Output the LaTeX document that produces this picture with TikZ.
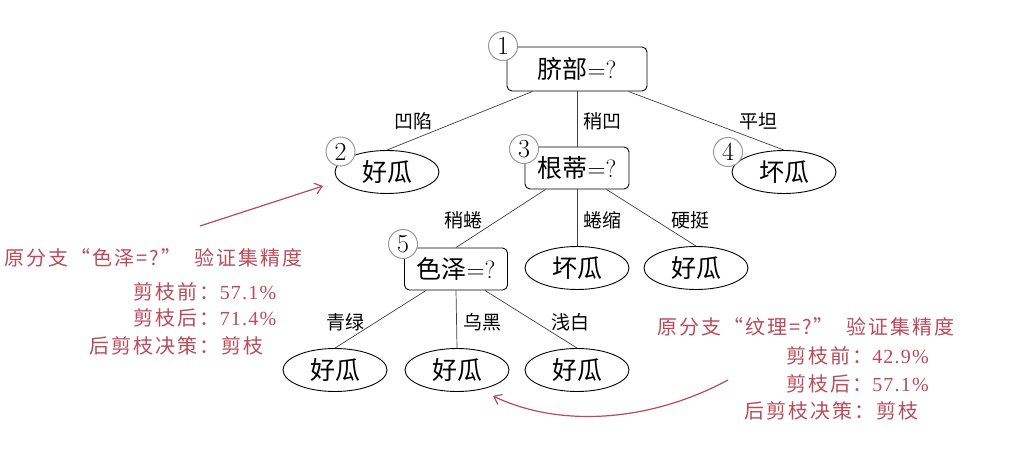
\documentclass[tikz,border=0pt]{standalone}
\usepackage{fontspec}
\newfontfamily\cjk{Noto Sans CJK SC}
\newfontfamily\cjkw[LetterSpace=10]{Noto Sans CJK SC}
\newfontfamily\numf[LetterSpace=6]{Liberation Serif}
\usetikzlibrary{shapes.geometric,arrows.meta}
\definecolor{anno}{RGB}{185,75,90}
\tikzset{
  decbox/.style={draw,line width=0.9pt,rounded corners=5pt,inner sep=0pt,font=\fontsize{25}{28}\selectfont},
  leaf/.style={draw,ellipse,line width=0.9pt,minimum width=104pt,minimum height=43pt,inner sep=0pt,font=\fontsize{25}{28}\selectfont\cjk},
  num/.style={draw=black!40,fill=white,circle,line width=1pt,minimum size=29pt,inner sep=0pt,font=\fontsize{26}{28}\selectfont},
  elabel/.style={inner sep=0pt,font=\fontsize{19}{22}\selectfont\cjk},
  edge/.style={line width=0.7pt,draw=black!75},
  annotxt/.style={inner sep=0pt,text=anno,font=\fontsize{20}{24}\selectfont\cjkw},
  annoarrow/.style={draw=anno,line width=1.2pt,-{Straight Barb[length=7pt,width=11pt]}}
}
\begin{document}
\begin{tikzpicture}[x=1pt,y=-1pt]
\useasboundingbox[fill=white] (0,0) rectangle (1011,454);
% decision nodes
\node[decbox,minimum width=140pt,minimum height=44pt] (root) at (577,69) {{\cjk 脐部}=?};
\node[decbox,minimum width=104pt,minimum height=42pt] (n3) at (577,168) {{\cjk 根蒂}=?};
\node[decbox,minimum width=103pt,minimum height=42pt] (n5) at (456,269) {{\cjk 色泽}=?};
% leaves
\node[leaf] (n2) at (387,172) {好瓜};
\node[leaf] (n4) at (784,172) {坏瓜};
\node[leaf] (l3b) at (577,268) {坏瓜};
\node[leaf] (l3c) at (696,268) {好瓜};
\node[leaf] (l5a) at (335,370) {好瓜};
\node[leaf] (l5b) at (457,370) {好瓜};
\node[leaf] (l5c) at (577,370) {好瓜};
% edges
\draw[edge] ([xshift=26pt]root.south west) -- (n2.north);
\draw[edge] (root.south) -- (n3.north);
\draw[edge] ([xshift=-19pt]root.south east) -- (n4.north);
\draw[edge] ([xshift=21pt]n3.south west) -- (n5.north);
\draw[edge] (n3.south) -- (l3b.north);
\draw[edge] ([xshift=-23pt]n3.south east) -- (l3c.north);
\draw[edge] ([xshift=22pt]n5.south west) -- (l5a.north);
\draw[edge] (n5.south) -- (l5b.north);
\draw[edge] ([xshift=-23pt]n5.south east) -- (l5c.north);
% edge labels
\node[elabel] (e1) at (413,121) {凹陷};
\node[elabel] (e2) at (602,121) {稍凹};
\node[elabel] (e3) at (758,121) {平坦};
\node[elabel] (e4) at (463,220) {稍蜷};
\node[elabel] (e5) at (602,220) {蜷缩};
\node[elabel] (e6) at (690,220) {硬挺};
\node[elabel] (e7) at (345,322) {青绿};
\node[elabel] (e8) at (482,322) {乌黑};
\node[elabel] (e9) at (570,322) {浅白};
% numbered circles
\node[num] (c1) at (503,46) {1};
\node[num] (c2) at (340.5,151.5) {2};
\node[num] (c3) at (524,149) {3};
\node[num] (c4) at (728,152) {4};
\node[num] (c5) at (403,244) {5};
% left annotation
\node[annotxt] (a1) at (153.5,258) {原分支“色泽=?”\ \ 验证集精度};
\node[annotxt] (a2) at (205,292) {剪枝前：{\numf 57.1\%}};
\node[annotxt] (a3) at (205,318) {剪枝后：{\numf 71.4\%}};
\node[annotxt] (a4) at (176.5,346) {后剪枝决策：剪枝};
\coordinate (p1) at (200,226);
\coordinate (p2) at (323,186);
\draw[annoarrow] (p1) -- (p2);
% right annotation
\node[annotxt] (b1) at (806,327) {原分支“纹理=?”\ \ 验证集精度};
\node[annotxt] (b2) at (857.5,356) {剪枝前：{\numf 42.9\%}};
\node[annotxt] (b3) at (857.5,384) {剪枝后：{\numf 57.1\%}};
\node[annotxt] (b4) at (831,411) {后剪枝决策：剪枝};
\coordinate (q1) at (728,380);
\coordinate (q2) at (493,396);
\draw[annoarrow] (q1) .. controls (650,422) and (560,428) .. (q2);
\end{tikzpicture}
\end{document}
